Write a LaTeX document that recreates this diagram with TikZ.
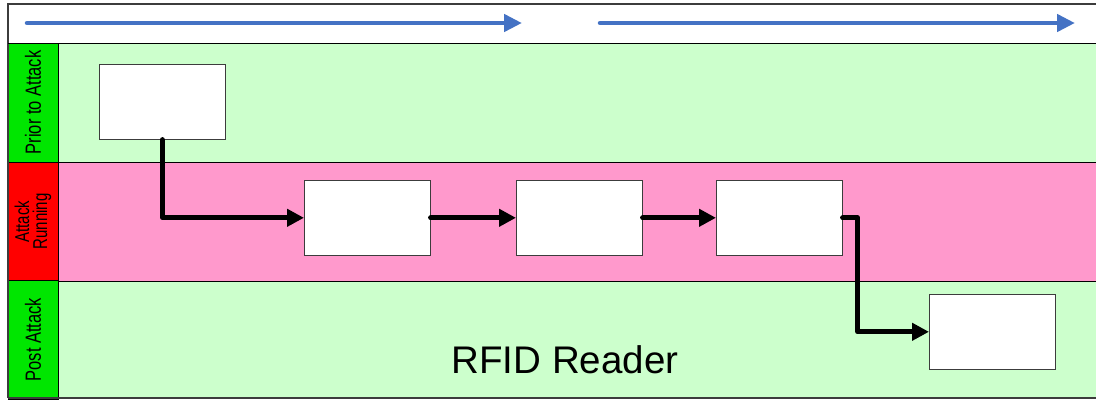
\documentclass[tikz,border=0pt]{standalone}
\usepackage{fontspec}
\setmainfont{Liberation Sans}
\newfontfamily\tagfont[FakeStretch=0.75]{Liberation Sans}
\usetikzlibrary{arrows.meta}
\definecolor{SwimGreen}{RGB}{204,255,204}
\definecolor{SwimPink}{RGB}{255,153,204}
\definecolor{TagGreen}{RGB}{0,230,0}
\definecolor{TagRed}{RGB}{255,0,0}
\definecolor{PhaseBlue}{RGB}{68,114,196}
\definecolor{FrameGray}{RGB}{60,60,60}

\begin{document}
\begin{tikzpicture}[x=1pt,y=-1pt,
lane/.style 2 args={#1,fill=#1,draw=black,line width=0.8pt,rectangle,inner sep=0pt,anchor=north west,minimum width=1050pt,minimum height=#2pt},
tag/.style={fill=#1,draw=black,line width=0.8pt,rectangle,rotate=90,inner sep=0pt,minimum width=119pt,minimum height=50pt,align=center,font=\tagfont\fontsize{22}{18}\selectfont},
stepbox/.style={draw=FrameGray,fill=white,line width=0.6pt,rectangle,inner sep=0pt,anchor=north west,minimum width=126pt,minimum height=75pt},
flow/.style={line width=5pt,line cap=round,line join=round,-{Triangle[length=17pt,width=17pt]}},
phase/.style={PhaseBlue,line width=4.5pt,line cap=round,-{Triangle[length=18pt,width=17pt]}}]
\useasboundingbox (0,0) rectangle (1096,400);
% header band with the two phase arrows
\fill[white] (8,4) rectangle (1100,43);
\coordinate (p0s) at (27,23);
\coordinate (p0e) at (522,23);
\coordinate (p1s) at (600,23);
\coordinate (p1e) at (1075,23);
\draw[phase] (p0s) -- (p0e);
\draw[phase] (p1s) -- (p1e);
% swim lanes
\node[lane={SwimGreen}{119}] (l0) at (58,43) {};
\node[lane={SwimPink}{119}] (l1) at (58,162) {};
\node[lane={SwimGreen}{117}] (l2) at (58,281) {};
\draw[black,line width=0.8pt] (l0.south west) -- (l0.south east) (l1.south west) -- (l1.south east);
\node[tag=TagGreen] (t0) at (33,102.5) {Prior to Attack};
\node[tag=TagRed,font=\tagfont\fontsize{20}{18}\selectfont] (t1) at (33,221.5) {Attack\\Running};
\node[tag=TagGreen] (t2) at (33,339.5) {Post Attack};
\draw[FrameGray,line width=2pt] (8,398) -- (8,4) -- (1100,4);
\draw[FrameGray,line width=1.2pt] (8,398) -- (1100,398);
\draw[black,line width=0.8pt] (8,43) -- (1100,43);
% steps
\node[stepbox] (s0) at (99,64) {};
\node[stepbox] (s1) at (304,180) {};
\node[stepbox] (s2) at (516,180) {};
\node[stepbox] (s3) at (716,180) {};
\node[stepbox] (s4) at (929,294) {};
\draw[flow] (s0.south) |- (s1.west);
\draw[flow] (s1.east) -- (s2.west);
\draw[flow] (s2.east) -- (s3.west);
\draw[flow] (s3.east) -- ++(15,0) |- (s4.west);
\node[anchor=base,inner sep=0pt,font=\fontsize{38.5}{40}\selectfont] (rfid) at (565,373) {RFID Reader};
\end{tikzpicture}
\end{document}
